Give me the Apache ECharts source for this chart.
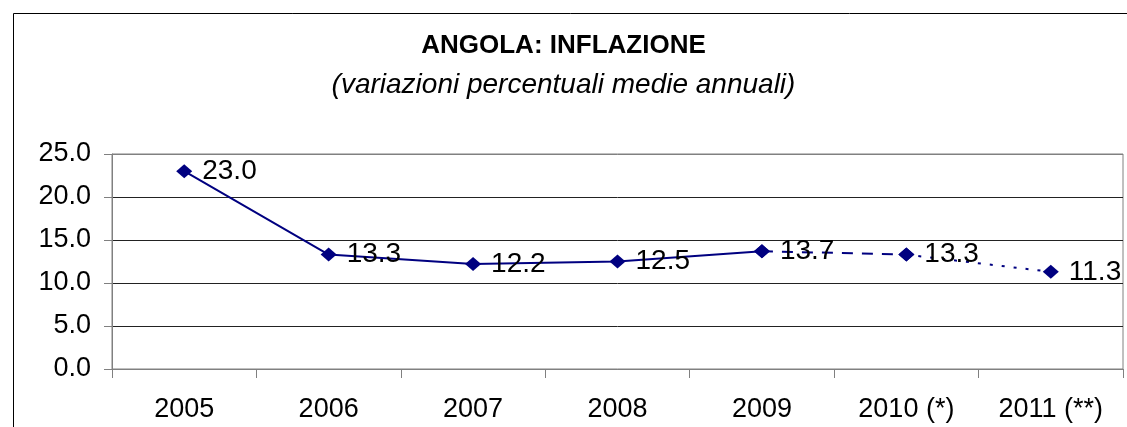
<!DOCTYPE html>
<html><head><meta charset="utf-8">
<script src="https://cdn.jsdelivr.net/npm/echarts@6/dist/echarts.min.js"></script>
<style>html,body{margin:0;padding:0;background:#fff}#c{width:1127px;height:427px}</style>
</head><body><div id="c"></div>
<script>
var categories = ['2005','2006','2007','2008','2009','2010 (*)','2011 (**)'];
var values = [23.0, 13.3, 12.2, 12.5, 13.7, 13.3, 11.3];
var yTicks = [0, 5, 10, 15, 20, 25];
var solidEnd = 4; // solid through 2009, dashed to 2010, dotted to 2011

function part(from, to) {
  return values.map(function (v, i) { return (i >= from && i <= to) ? v : null; });
}
var navy = '#000080';
var FONT = 'Liberation Sans, Arial, sans-serif';
var chart = echarts.init(document.getElementById('c'));
function mk(data, type, labelFrom, labelTo) {
  return {
    type: 'line', data: data, symbol: 'diamond', symbolSize: [16, 14],
    itemStyle: { color: navy }, lineStyle: { color: navy, width: 2, type: type },
    connectNulls: false, animation: false,
    label: {
      show: true, position: 'right', distance: 10, color: '#000',
      fontFamily: FONT, fontSize: 28,
      formatter: function (p) { return (p.dataIndex >= labelFrom && p.dataIndex <= labelTo) ? p.value.toFixed(1) : ''; }
    }
  };
}
chart.setOption({
  backgroundColor: '#fff',
  title: [
    { text: 'ANGOLA: INFLAZIONE', left: 'center', top: 28,
      textStyle: { fontFamily: FONT, fontWeight: 'bold', fontSize: 26, color: '#000' } },
    { text: '(variazioni percentuali medie annuali)', left: 'center', top: 66,
      textStyle: { fontFamily: FONT, fontStyle: 'italic', fontWeight: 'normal', fontSize: 28, color: '#000' } }
  ],
  graphic: [{ type: 'rect', left: 11, top: 11, shape: { width: 1140, height: 440 },
    style: { fill: 'none', stroke: '#000', lineWidth: 1 }, silent: true, z: 100 }],
  grid: { left: 112, right: 4, top: 154, bottom: 58, show: true, borderColor: '#808080', borderWidth: 1, backgroundColor: 'transparent' },
  xAxis: {
    type: 'category', data: categories, boundaryGap: true,
    axisLine: { lineStyle: { color: '#808080', width: 1 } },
    axisTick: { show: true, length: 9, lineStyle: { color: '#808080' }, alignWithLabel: false },
    axisLabel: { color: '#000', fontFamily: FONT, fontSize: 27, margin: 27 }
  },
  yAxis: {
    type: 'value', min: yTicks[0], max: yTicks[yTicks.length - 1], interval: 5,
    axisLine: { show: true, lineStyle: { color: '#808080', width: 1 } },
    axisTick: { show: true, length: 8, inside: false, lineStyle: { color: '#808080' } },
    splitLine: { show: true, lineStyle: { color: ['#808080', '#222', '#222', '#222', '#222', '#808080'], width: 1 } },
    axisLabel: { color: '#000', fontFamily: FONT, fontSize: 27, margin: 21,
      formatter: function (v) { return v.toFixed(1); } }
  },
  series: [
    mk(part(0, solidEnd), 'solid', 0, solidEnd),
    mk(part(solidEnd, solidEnd + 1), [11, 9], solidEnd + 1, solidEnd + 1),
    mk(part(solidEnd + 1, solidEnd + 2), [3, 9], solidEnd + 2, solidEnd + 2)
  ]
});
</script></body></html>
